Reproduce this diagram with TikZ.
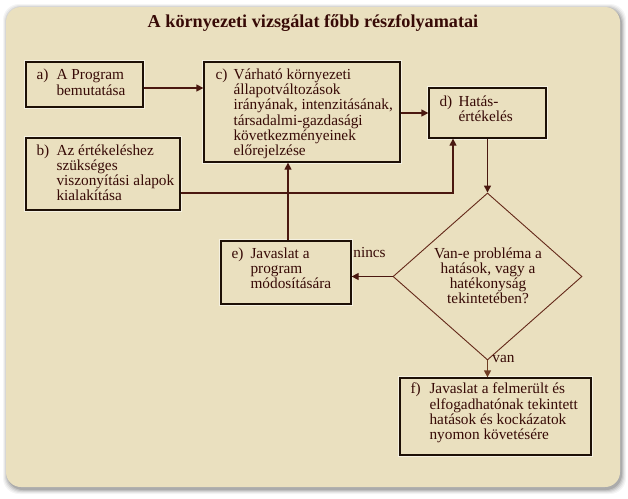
\documentclass[tikz,border=0pt]{standalone}
\usepackage{fontspec}
\setmainfont{Liberation Serif}
\usetikzlibrary{arrows.meta,shapes.geometric,calc}
\definecolor{bgc}{RGB}{234,224,191}
\definecolor{txt}{RGB}{55,10,6}
\definecolor{lnc}{RGB}{74,24,16}
\definecolor{bdc}{RGB}{30,16,6}
\definecolor{dmc}{RGB}{100,40,25}
\definecolor{vanc}{RGB}{110,60,35}
\tikzset{
  box/.style={draw=bdc, line width=1.3pt, fill=bgc, inner sep=0pt,
    preaction={draw=white, line width=4pt, opacity=0.55}},
  lbl/.style={text=txt, inner sep=0pt, font=\fontsize{15.3}{15}\selectfont},
  ttl/.style={text=txt, inner sep=0pt, font=\bfseries\fontsize{18.2}{20}\selectfont},
  arr/.style={draw=lnc, line width=1.3pt, -{Triangle[length=7pt,width=7pt]}},
}
\begin{document}
\begin{tikzpicture}[x=1pt,y=-1pt]
\useasboundingbox (0,0) rectangle (628,498);
\fill[white] (0,0) rectangle (628,498);
\foreach \i/\o in {5/0.04,4/0.05,3/0.07,2/0.09,1/0.12}
  \fill[black,opacity=\o,rounded corners=16pt] (6-\i+2, 7-\i+2) rectangle (620+\i+1, 487+\i+2);
\fill[bgc, rounded corners=15pt] (6,7) rectangle (620,487);

\node[ttl] (title) at (313,23) {A környezeti vizsgálat főbb részfolyamatai};

% boxes
\node[box, minimum width=117pt, minimum height=45pt] (a) at (84.5,84.5) {};
\node[box, minimum width=154pt, minimum height=72pt] (b) at (103,174) {};
\node[box, minimum width=196pt, minimum height=100pt] (c) at (302,112) {};
\node[box, minimum width=117pt, minimum height=50pt] (d) at (487.5,113) {};
\node[box, minimum width=130pt, minimum height=63pt] (e) at (286,272.5) {};
\node[box, minimum width=191pt, minimum height=77pt] (f) at (495.5,416.5) {};
\node[draw=dmc, line width=0.9pt, diamond, minimum width=189pt, minimum height=167pt, inner sep=0pt] (q) at (487.5,276.5) {};

% texts
\node[lbl, anchor=west] (ta) at ($(a.west)+(11,0)$)
  {\begin{tabular}{@{}p{20pt}@{}l@{}}a)&A Program\\&bemutatása\end{tabular}};
\node[lbl, anchor=west] (tb) at ($(b.west)+(11,1)$)
  {\begin{tabular}{@{}p{20pt}@{}l@{}}b)&Az értékeléshez\\&szükséges\\&viszonyítási alapok\\&kialakítása\end{tabular}};
\node[lbl, anchor=north west] (tc) at ($(c.north west)+(12,7.5)$)
  {\begin{tabular}{@{}p{18pt}@{}l@{}}c)&Várható környezeti\\&állapotváltozások\\&irányának, intenzitásának,\\&társadalmi-gazdasági\\&következményeinek\\&előrejelzése\end{tabular}};
\node[lbl, anchor=west] (td) at ($(d.west)+(11,-2)$)
  {\begin{tabular}{@{}p{19pt}@{}l@{}}d)&Hatás-\\&értékelés\end{tabular}};
\node[lbl, anchor=west] (te) at ($(e.west)+(11,-2)$)
  {\begin{tabular}{@{}p{19pt}@{}l@{}}e)&Javaslat a\\&program\\&módosítására\end{tabular}};
\node[lbl, anchor=west] (tf) at ($(f.west)+(11,-3)$)
  {\begin{tabular}{@{}p{19pt}@{}l@{}}f)&Javaslat a felmerült és\\&elfogadhatónak tekintett\\&hatások és kockázatok\\&nyomon követésére\end{tabular}};
\node[lbl, align=center] (tq) at (488,276) {Van-e probléma a\\hatások, vagy a\\hatékonyság\\tekintetében?};
\node[lbl] (nincs) at (369.5,253) {nincs};
\node[lbl] (van) at (503.5,359) {van};

% connectors
\coordinate (a1) at ([yshift=-3.5pt]a.east);
\draw[arr] (a1) -- (a1 -| c.west);
\draw[arr] (d.west -| c.east) -- (d.west);
\coordinate (b1) at ([yshift=-19pt]b.east);
\coordinate (d1) at ([xshift=-34.5pt]d.south);
\draw[arr] (b1) -| (d1);
\coordinate (e1) at ([xshift=2pt]e.north);
\draw[arr] (e1) -- (e1 |- c.south);
\draw[arr] (d.south) -- (q.north);
\draw[arr] (q.west) -- (q.west -| e.east);
\draw[arr, draw=vanc] (q.south) -- (q.south |- f.north);
\end{tikzpicture}
\end{document}
